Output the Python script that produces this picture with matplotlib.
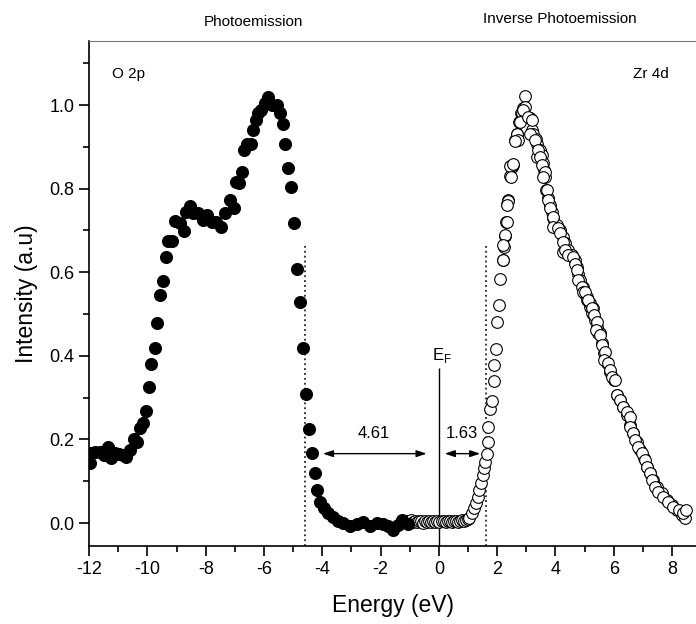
import matplotlib
matplotlib.use("Agg")
import matplotlib.pyplot as plt
from matplotlib.ticker import MultipleLocator

plt.rcParams['font.family'] = ['Liberation Sans', 'DejaVu Sans']
plt.rcParams['mathtext.fontset'] = 'custom'
plt.rcParams['mathtext.rm'] = 'Liberation Sans'
plt.rcParams['axes.unicode_minus'] = False

# photoemission (O 2p), filled circles
pes_x = [-11.98, -11.98, -11.81, -11.64, -11.50, -11.35, -11.24, -11.12, -10.97, -10.84,
         -10.72, -10.58, -10.47, -10.36, -10.26, -10.15, -10.06, -9.95, -9.86, -9.75,
         -9.67, -9.58, -9.46, -9.37, -9.29, -9.16, -9.06, -8.89, -8.75, -8.68,
         -8.55, -8.43, -8.26, -8.09, -7.97, -7.80, -7.63, -7.46, -7.35, -7.15,
         -7.04, -6.97, -6.85, -6.76, -6.69, -6.58, -6.43, -6.39, -6.28, -6.20,
         -6.09, -5.97, -5.86, -5.71, -5.55, -5.46, -5.36, -5.27, -5.17, -5.08,
         -4.97, -4.87, -4.78, -4.66, -4.56, -4.47, -4.35, -4.26, -4.18, -4.08,
         -3.95, -3.80, -3.63, -3.46, -3.28, -3.05, -2.82, -2.60, -2.37, -2.14,
         -1.91, -1.74, -1.57, -1.40, -1.25, -1.05]
pes_y = [0.143, 0.168, 0.171, 0.171, 0.163, 0.183, 0.155, 0.167, 0.165, 0.163,
         0.157, 0.175, 0.200, 0.195, 0.227, 0.240, 0.269, 0.326, 0.380, 0.420,
         0.478, 0.545, 0.578, 0.637, 0.675, 0.674, 0.722, 0.718, 0.699, 0.745,
         0.758, 0.741, 0.741, 0.725, 0.737, 0.721, 0.721, 0.709, 0.741, 0.774,
         0.753, 0.817, 0.813, 0.841, 0.892, 0.908, 0.908, 0.940, 0.964, 0.982,
         0.988, 1.004, 1.020, 1.000, 1.000, 0.980, 0.956, 0.908, 0.849, 0.805,
         0.718, 0.609, 0.529, 0.418, 0.309, 0.224, 0.168, 0.119, 0.079, 0.051,
         0.035, 0.023, 0.014, 0.006, 0.001, -0.007, -0.002, 0.003, -0.007, 0.000,
         -0.002, -0.007, -0.017, -0.005, 0.007, -0.002]

# inverse photoemission (Zr 4d), open circles
ipes_x = [-1.10, -1.03, -0.96, -0.89, -0.82, -0.75, -0.68, -0.61, -0.54, -0.47,
          -0.40, -0.33, -0.26, -0.19, -0.12, -0.05, 0.02, 0.09, 0.16, 0.23,
          0.30, 0.37, 0.44, 0.51, 0.58, 0.65, 0.72, 0.79, 0.86, 0.93, 0.99,
          1.04, 1.12, 1.20, 1.27, 1.33, 1.38, 1.44, 1.50, 1.55, 1.59,
          1.64, 1.69, 1.69, 1.75, 1.83, 1.89, 1.90, 1.96, 1.98, 2.06,
          2.10, 2.21, 2.23, 2.27, 2.30, 2.35, 2.38, 2.44, 2.50, 2.55,
          2.61, 2.69, 2.76, 2.81, 2.90, 2.95, 3.01, 3.13, 3.18, 3.22,
          3.33, 3.38, 3.36, 3.47, 3.53, 3.56, 3.61, 3.64, 3.67, 3.75,
          3.81, 3.87, 3.92, 3.95, 4.04, 4.16, 4.27, 4.33, 4.27, 4.44,
          4.56, 4.67, 4.73, 4.78, 4.84, 4.93, 5.01, 5.09, 5.18, 5.28,
          5.36, 5.44, 5.53, 5.24, 5.47, 5.59, 5.67, 5.76, 5.87, 5.99,
          6.10, 6.21, 6.33, 6.44, 6.56, 6.67, 6.79, 6.90, 7.02, 7.13,
          7.24, 7.36, 7.48, 7.65, 7.82, 7.99, 8.16, 8.33, 8.45,
          # second pass read along the dense band
          2.44, 2.53, 2.46, 2.38, 2.35, 2.33, 2.27, 2.21, 2.19, 2.67,
          2.72, 2.61, 2.84, 2.95, 2.78, 2.95, 2.90, 3.07, 3.18, 3.13,
          3.30, 3.41, 3.47, 3.53, 3.64, 3.58, 3.70, 3.75, 3.81, 3.93,
          3.93, 4.10, 4.16, 4.27, 4.33, 4.44, 4.61, 4.67, 4.73, 4.78,
          4.90, 4.95, 5.07, 5.18, 5.30, 5.01, 5.13, 5.24, 5.32, 5.42,
          5.39, 5.53, 5.59, 5.70, 5.67, 5.81, 5.87, 5.93, 6.04, 6.10,
          6.21, 6.33, 6.44, 6.56, 6.56, 6.67, 6.73, 6.84, 6.96, 7.07,
          7.13, 7.24, 7.30, 7.42, 7.53, 7.70, 7.87, 8.04, 8.22, 8.39,
          8.48]
ipes_y = [0.006, 0.004, 0.007, 0.003, 0.005, 0.002, 0.006, 0.004, 0.001, 0.005,
          0.003, 0.006, 0.002, 0.004, 0.003, 0.005, 0.002, 0.004, 0.006, 0.003,
          0.005, 0.004, 0.002, 0.006, 0.004, 0.003, 0.005, 0.007, 0.006, 0.008,
          0.009, 0.011, 0.023, 0.035, 0.049, 0.063, 0.079, 0.096, 0.115, 0.131,
          0.147, 0.164, 0.195, 0.230, 0.273, 0.293, 0.340, 0.378, 0.416, 0.482,
          0.522, 0.583, 0.629, 0.660, 0.687, 0.721, 0.763, 0.773, 0.830, 0.852,
          0.856, 0.916, 0.932, 0.960, 0.980, 0.992, 1.022, 0.972, 0.968, 0.940,
          0.931, 0.920, 0.908, 0.876, 0.892, 0.880, 0.861, 0.845, 0.828, 0.797,
          0.777, 0.761, 0.745, 0.729, 0.709, 0.713, 0.701, 0.685, 0.669, 0.649,
          0.653, 0.641, 0.629, 0.613, 0.597, 0.581, 0.565, 0.549, 0.533, 0.517,
          0.501, 0.485, 0.470, 0.454, 0.502, 0.454, 0.430, 0.406, 0.382, 0.362,
          0.342, 0.306, 0.294, 0.278, 0.258, 0.234, 0.215, 0.194, 0.175, 0.155,
          0.135, 0.119, 0.103, 0.087, 0.071, 0.055, 0.043, 0.031, 0.019, 0.011,
          0.854, 0.859, 0.828, 0.771, 0.761, 0.721, 0.689, 0.665, 0.629, 0.932,
          0.916, 0.915, 0.980, 0.972, 0.960, 0.996, 0.988, 0.972, 0.964, 0.932,
          0.916, 0.892, 0.876, 0.856, 0.840, 0.828, 0.797, 0.773, 0.753, 0.733,
          0.709, 0.705, 0.693, 0.673, 0.653, 0.641, 0.637, 0.621, 0.605, 0.581,
          0.565, 0.553, 0.541, 0.526, 0.514, 0.553, 0.533, 0.514, 0.498, 0.482,
          0.462, 0.450, 0.426, 0.410, 0.390, 0.382, 0.366, 0.350, 0.342, 0.306,
          0.294, 0.278, 0.266, 0.254, 0.230, 0.215, 0.199, 0.183, 0.167, 0.151,
          0.135, 0.119, 0.103, 0.087, 0.075, 0.063, 0.051, 0.039, 0.031, 0.023,
          0.031]

vbm = -4.61
cbm = 1.63
x_lim = (-12, 8.82)
y_lim = (-0.055, 1.153)

fig = plt.figure(figsize=(6.96, 6.24), dpi=100)
ax = fig.add_axes([0.128, 0.125, 0.872, 0.809])

ax.plot(ipes_x, ipes_y, 'o', ms=8.4, mfc='white', mec='black', mew=0.8, zorder=3)
ax.plot(pes_x, pes_y, 'o', ms=8.4, mfc='black', mec='black', zorder=4)

ax.vlines([vbm, cbm], y_lim[0], 0.667, colors='black', linestyles=(0, (1.2, 2.0)), lw=1.1)
ax.vlines(0, y_lim[0], 0.37, colors='black', lw=1.0)

arr = dict(arrowstyle='<|-|>,head_length=0.6,head_width=0.2', color='black',
           lw=1.0, shrinkA=0, shrinkB=0)
ax.annotate('', xy=(-3.98, 0.166), xytext=(-0.42, 0.166), arrowprops=arr)
ax.annotate('', xy=(0.2, 0.166), xytext=(1.42, 0.166), arrowprops=arr)
ax.text(-2.25, 0.215, '4.61', fontsize=12, ha='center', va='center')
ax.text(0.78, 0.215, '1.63', fontsize=12, ha='center', va='center')
ax.text(0.1, 0.40, r'E$_{\mathrm{F}}$', fontsize=12, ha='center', va='center')

ax.text(-11.2, 1.075, 'O 2p', fontsize=11, ha='left', va='center')
ax.text(6.66, 1.075, 'Zr 4d', fontsize=11, ha='left', va='center')
ax.text(-6.35, 1.2, 'Photoemission', fontsize=11, ha='center', va='center', clip_on=False)
ax.text(4.15, 1.205, 'Inverse Photoemission', fontsize=11, ha='center', va='center', clip_on=False)

ax.set_xlim(*x_lim)
ax.set_ylim(*y_lim)
ax.xaxis.set_major_locator(MultipleLocator(2))
ax.xaxis.set_minor_locator(MultipleLocator(1))
ax.yaxis.set_major_locator(MultipleLocator(0.2))
ax.yaxis.set_minor_locator(MultipleLocator(0.1))
ax.tick_params(which='both', direction='out', width=1.2, labelsize=13)
ax.tick_params(which='major', length=7)
ax.tick_params(which='minor', length=4)
ax.tick_params(top=False, right=False)
ax.yaxis.set_major_formatter(plt.FormatStrFormatter('%.1f'))

ax.spines['right'].set_visible(False)
ax.spines['top'].set_color('#777777')
ax.spines['left'].set_linewidth(1.2)
ax.spines['bottom'].set_linewidth(1.2)

ax.set_xlabel('Energy (eV)', fontsize=16.5, labelpad=12)
ax.set_ylabel('Intensity (a.u)', fontsize=16.5, labelpad=8)

fig.savefig('out.png', dpi=100)
